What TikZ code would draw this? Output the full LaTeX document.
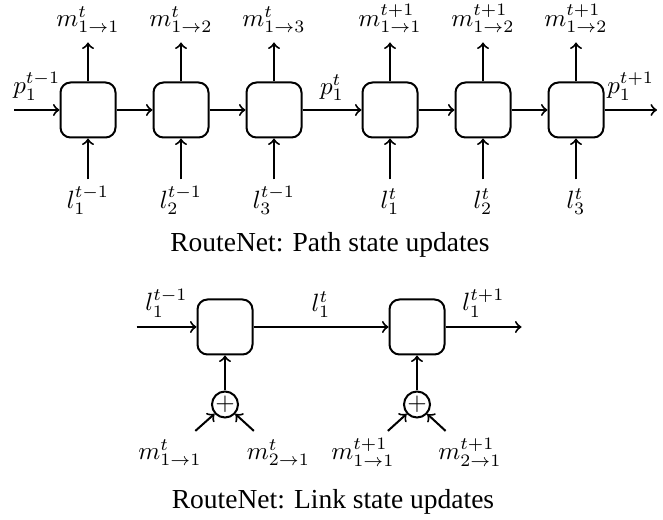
\documentclass[tikz,border=0pt]{standalone}
\usepackage[no-math]{fontspec}
\setmainfont{Liberation Serif}
\usetikzlibrary{positioning, calc}
\tikzset{%
  cell/.style={draw, thick, rounded corners=4pt, minimum size=22pt, inner sep=0pt}, % update cell
  sum/.style={draw, thick, circle, minimum size=10.4pt, inner sep=0pt}, % aggregation of messages
  lab/.style={text height=8pt, text depth=3pt},
  caption/.style={font=\fontsize{11}{13}\selectfont},
  every edge/.style={%
    draw, ->, thick
  }
}
\begin{document}
\begin{tikzpicture}
    \useasboundingbox (0,0) rectangle (265.2pt,-208pt);

    % path state updates
    \node[cell] (b1) at (35.2pt,-44pt) {};
    \node[cell, right=14.4pt of b1] (b2) {};
    \node[cell, right=14.4pt of b2] (b3) {};
    \node[cell, right=23.6pt of b3] (b4) {};
    \node[cell, right=14.4pt of b4] (b5) {};
    \node[cell, right=14.4pt of b5] (b6) {};
    \coordinate[left=18.2pt of b1] (pin);
    \coordinate[right=21pt of b6] (pout);

    \node[lab, above=15.6pt of b1] (m1) {$m^t_{1\to1}$};
    \node[lab, above=15.6pt of b2] (m2) {$m^t_{1\to2}$};
    \node[lab, above=15.6pt of b3] (m3) {$m^t_{1\to3}$};
    \node[lab, above=15.6pt of b4] (m4) {$m^{t+1}_{1\to1}$};
    \node[lab, above=15.6pt of b5] (m5) {$m^{t+1}_{1\to2}$};
    \node[lab, above=15.6pt of b6] (m6) {$m^{t+1}_{1\to2}$};

    \node[lab, below=16.4pt of b1] (l1) {$l^{t-1}_1$};
    \node[lab, below=16.4pt of b2] (l2) {$l^{t-1}_2$};
    \node[lab, below=16.4pt of b3] (l3) {$l^{t-1}_3$};
    \node[lab, below=16.4pt of b4] (l4) {$l^{t}_1$};
    \node[lab, below=16.4pt of b5] (l5) {$l^{t}_2$};
    \node[lab, below=16.4pt of b6] (l6) {$l^{t}_3$};

    \draw (pin) edge node[above] {$p_1^{t-1}$} (b1);
    \draw (b1) edge (b2);
    \draw (b2) edge (b3);
    \draw (b3) edge node[above] {$p_1^{t}$} (b4);
    \draw (b4) edge (b5);
    \draw (b5) edge (b6);
    \draw (b6) edge node[above] {$p_1^{t+1}$} (pout);

    \draw (b1) edge (m1) (b2) edge (m2) (b3) edge (m3)
          (b4) edge (m4) (b5) edge (m5) (b6) edge (m6);
    \draw (l1) edge (b1) (l2) edge (b2) (l3) edge (b3)
          (l4) edge (b4) (l5) edge (b5) (l6) edge (b6);

    \node[caption] (cap1) at (132pt,-98pt) {RouteNet: Path state updates};

    % link state updates
    \node[cell] (la) at (90pt,-130.8pt) {};
    \node[cell, right=54pt of la] (lb) {};
    \coordinate[left=24pt of la] (lin);
    \coordinate[right=30.4pt of lb] (lout);

    \node[sum, below=14pt of la] (sa) {$+$};
    \node[sum, below=14pt of lb] (sb) {$+$};

    \node[lab] (ma1) at ($(sa)+(-22pt,-19.6pt)$) {$m^t_{1\to1}$};
    \node[lab] (ma2) at ($(sa)+(21.4pt,-19.6pt)$) {$m^t_{2\to1}$};
    \node[lab] (mb1) at ($(sb)+(-21.6pt,-19.6pt)$) {$m^{t+1}_{1\to1}$};
    \node[lab] (mb2) at ($(sb)+(21.2pt,-19.6pt)$) {$m^{t+1}_{2\to1}$};

    \draw (lin) edge node[above] {$l_1^{t-1}$} (la);
    \draw (la) edge node[above] {$l_1^{t}$} (lb);
    \draw (lb) edge node[above] {$l_1^{t+1}$} (lout);

    \draw (sa) edge (la) (sb) edge (lb);
    \draw (ma1) edge (sa) (ma2) edge (sa);
    \draw (mb1) edge (sb) (mb2) edge (sb);

    \node[caption] (cap2) at (133.2pt,-200.8pt) {RouteNet: Link state updates};
\end{tikzpicture}
\end{document}
